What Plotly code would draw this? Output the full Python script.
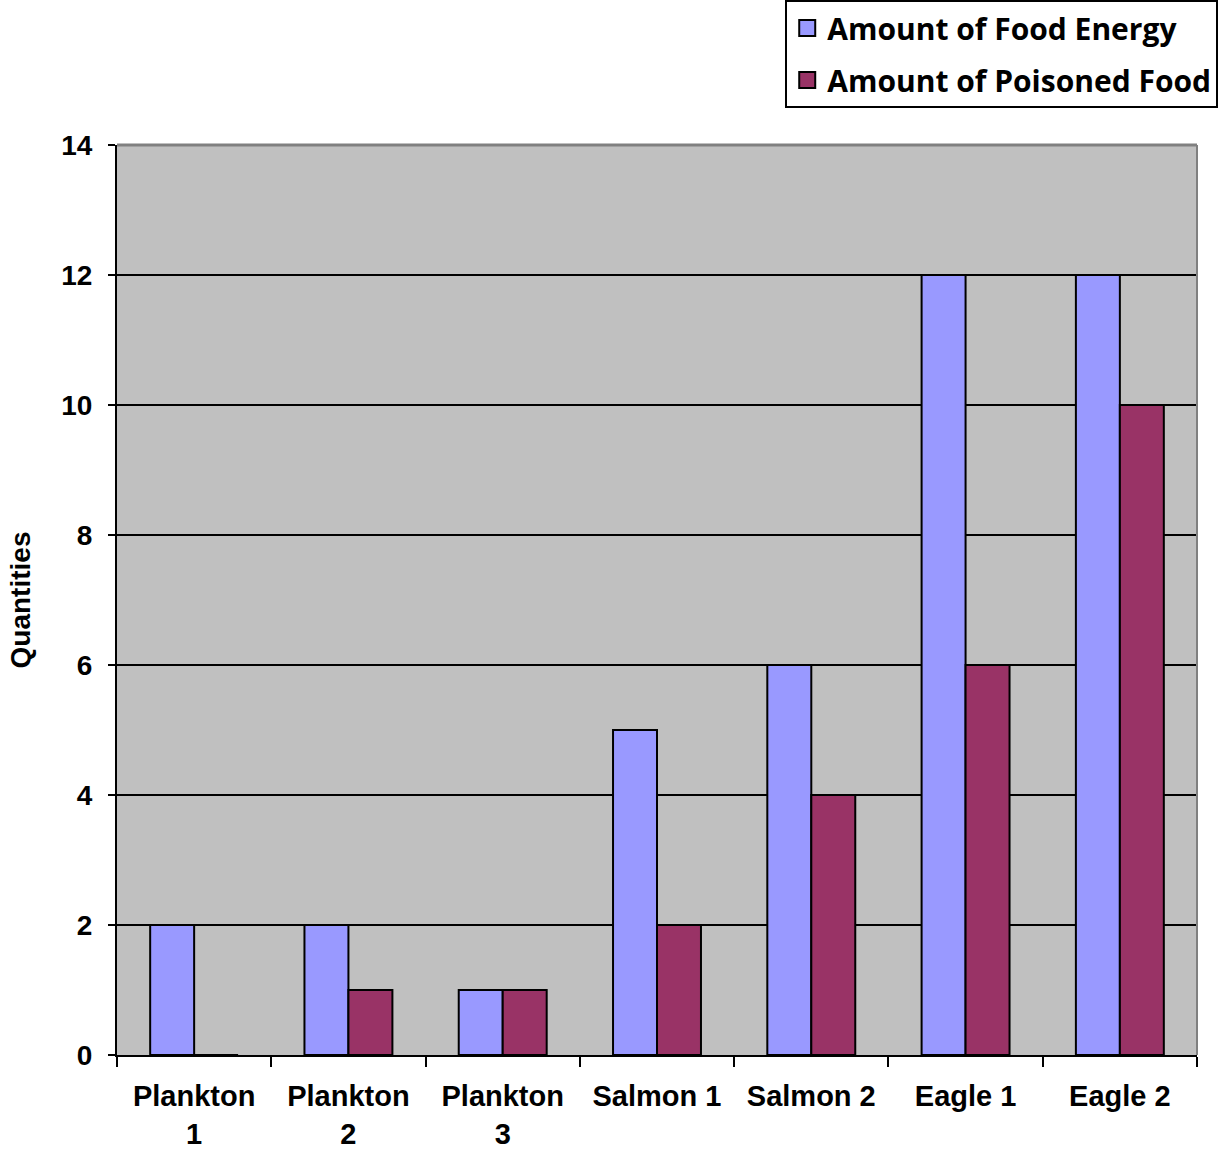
import plotly.graph_objects as go

categories = ["Plankton<br>1", "Plankton<br>2", "Plankton<br>3", "Salmon 1", "Salmon 2", "Eagle 1", "Eagle 2"]
food_energy = [2, 2, 1, 5, 6, 12, 12]
poisoned_food = [0, 1, 1, 2, 4, 6, 10]
y_ticks = [0, 2, 4, 6, 8, 10, 12, 14]
series_names = ["Amount of Food Energy", "Amount of Poisoned Food"]
series_colors = ["#9999FF", "#993366"]

FONT = "Liberation Sans, Arial, sans-serif"

fig = go.Figure()
for name, vals, col in zip(series_names, [food_energy, poisoned_food], series_colors):
    fig.add_trace(go.Bar(
        x=categories, y=vals, name=name, showlegend=False,
        marker=dict(color=col, line=dict(color="black", width=2)),
    ))
# legend entries with larger square swatches
for i, (name, col) in enumerate(zip(series_names, series_colors)):
    fig.add_trace(go.Scatter(
        x=[None], y=[None], mode="markers", name=name, legendgroup=f"g{i}",
        marker=dict(symbol="square", size=20, color=col, line=dict(color="black", width=2)),
    ))

fig.update_layout(
    width=1225, height=1163,
    margin=dict(l=117, r=28, t=145, b=108, autoexpand=False),
    paper_bgcolor="white",
    plot_bgcolor="#C0C0C0",
    barmode="group",
    bargap=0.43,
    bargroupgap=0,
    font=dict(family=FONT, color="black"),
    legend=dict(
        x=0.641, y=1.0, xref="container", yref="container", xanchor="left", yanchor="top",
        bgcolor="white", bordercolor="black", borderwidth=2,
        font=dict(family="Open Sans, sans-serif", size=30, color="black", weight="bold"),
        tracegroupgap=10, itemwidth=30,
        entrywidth=385, entrywidthmode="pixels",
    ),
    xaxis=dict(
        type="category",
        tickson="boundaries",
        ticks="outside", ticklen=10, tickwidth=2, tickcolor="black",
        showline=True, linecolor="black", linewidth=2,
        showgrid=False,
        tickangle=0,
        ticklabelstandoff=14,
        tickfont=dict(family=FONT, size=29, color="black", weight="bold"),
    ),
    yaxis=dict(
        range=[0, 14],
        tickvals=y_ticks,
        ticks="outside", ticklen=7, tickwidth=2, tickcolor="black",
        showline=True, linecolor="black", linewidth=2,
        showgrid=True, gridcolor="black", gridwidth=2,
        zeroline=False,
        ticklabelstandoff=10,
        tickfont=dict(family=FONT, size=28, color="black", weight="bold"),
        title=dict(text="Quantities", font=dict(family=FONT, size=28, color="black", weight="bold"), standoff=22),
    ),
)

# gray plot-area border on top and right
fig.add_shape(type="line", xref="x domain", yref="y domain", x0=0, x1=1, y0=1, y1=1,
              line=dict(color="#808080", width=3), layer="above")
fig.add_shape(type="line", xref="x domain", yref="y domain", x0=1, x1=1, y0=0, y1=1,
              line=dict(color="#808080", width=2), layer="above")

fig.write_html("out.html", config={"displayModeBar": False},
               post_script="document.body.style.margin='0';document.body.style.overflow='hidden';")
